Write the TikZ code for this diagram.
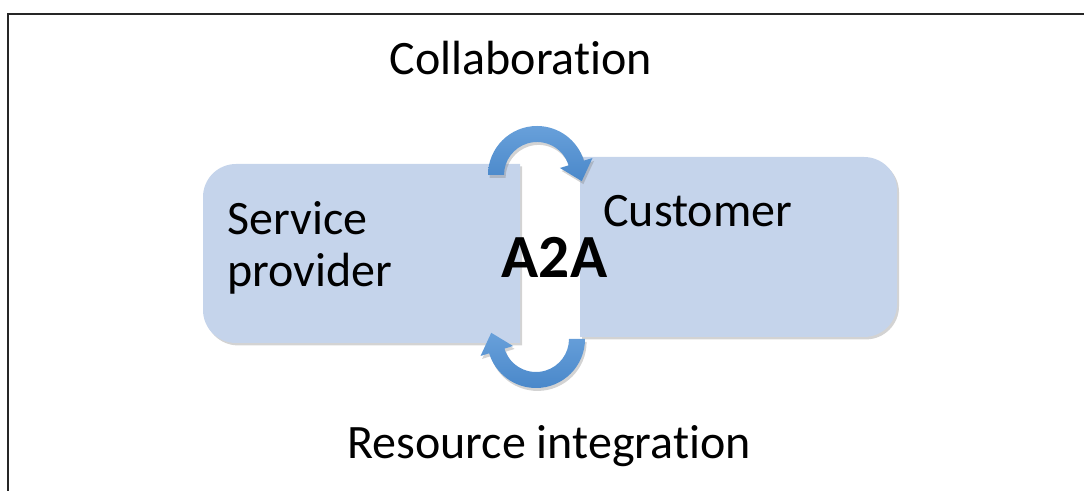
\documentclass[tikz,border=0pt]{standalone}
\usepackage{fontspec}
\setmainfont{Carlito}[Ligatures={NoCommon,NoContextual},RawFeature={-liga;-calt;-dlig}]
\usetikzlibrary{calc,shadows}
\definecolor{boxfill}{RGB}{197,212,235}
\definecolor{arrtop}{RGB}{104,160,218}
\definecolor{arrbot}{RGB}{74,136,202}
\newcommand{\nolig}{\kern0pt}
\tikzset{
  boxshape/.style={fill=boxfill, drop shadow={opacity=0.35, shadow xshift=1.5pt, shadow yshift=-1.8pt}},
  arrshape/.style={top color=arrtop, bottom color=arrbot, drop shadow={opacity=0.35, shadow xshift=1.2pt, shadow yshift=-2.2pt}},
  lbl/.style={inner sep=0pt, font=\fontsize{36}{40}\selectfont},
  bigl/.style={inner sep=0pt, font=\fontsize{46}{50}\selectfont\bfseries},
  frameline/.style={line width=1.5pt, draw=black!85}
}
\begin{document}
\begin{tikzpicture}[x=0.75pt,y=0.75pt]
\useasboundingbox (0,0) rectangle (1084,491);
% frame (top and left sides visible)
\draw[frameline] (8,0) -- (8,477) -- (1084,477);
% left box: Service provider
\path[boxshape] (520,327) -- (236,327) arc[start angle=90,end angle=180,radius=33]
  -- (203,181) arc[start angle=180,end angle=270,radius=33] -- (520,148) -- cycle;
% right box: Customer
\path[boxshape] (580,334) -- (864,334) arc[start angle=90,end angle=0,radius=33]
  -- (897,187) arc[start angle=0,end angle=-90,radius=33] -- (580,154) -- cycle;
% top curved arrow (Collaboration)
\coordinate (ct) at (537,316);
\path[arrshape] ($(ct)+(180:49)$) arc[start angle=180,end angle=17,radius=49]
  -- ($(ct)+(17:58)$) -- ($(ct)+(17:41)+(-73:19)$) -- ($(ct)+(17:24)$)
  -- ($(ct)+(17:33)$) arc[start angle=17,end angle=180,radius=33] -- cycle;
% bottom curved arrow (Resource integration)
\coordinate (cb) at (536,152);
\path[arrshape] ($(cb)+(0:49)$) arc[start angle=0,end angle=-163,radius=49]
  -- ($(cb)+(-163:58)$) -- ($(cb)+(-163:41)+(107:19)$) -- ($(cb)+(-163:24)$)
  -- ($(cb)+(-163:33)$) arc[start angle=-163,end angle=0,radius=33] -- cycle;
% texts
\node[lbl, anchor=base] (collab) at (521,416) {Collaborat\nolig ion};
\node[lbl, anchor=base] (resint) at (549,32) {Resource integrat\nolig ion};
\node[lbl, anchor=base west] (sp1) at (227,256) {Service};
\node[lbl, anchor=base west] (sp2) at (227,204) {provider};
\node[lbl, anchor=base west] (cust) at (603,264) {Customer};
\node[bigl, anchor=base] (a2a) at (554.5,213) {A2A};
\end{tikzpicture}
\end{document}
